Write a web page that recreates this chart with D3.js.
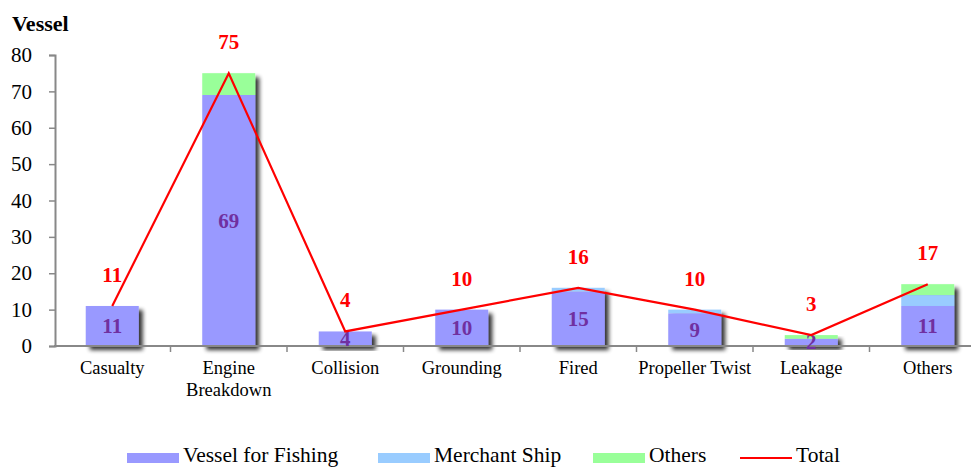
<!DOCTYPE html>
<html>
<head>
<meta charset="utf-8">
<script src="https://cdn.jsdelivr.net/npm/d3@7/dist/d3.min.js"></script>
<style>
  html, body { margin: 0; padding: 0; background: #fff; }
  svg { display: block; }
  text { font-family: "Liberation Serif", "Times New Roman", serif; }
</style>
</head>
<body>
<svg id="chart" width="971" height="468"></svg>
<script>
// Incident counts by cause, split by vessel type
const categories = ["Casualty", "Engine Breakdown", "Collision", "Grounding", "Fired", "Propeller Twist", "Leakage", "Others"];
const fishing  = [11, 69, 4, 10, 15, 9, 2, 11];
const merchant = [0, 0, 0, 0, 1, 1, 0, 3];
const others   = [0, 6, 0, 0, 0, 0, 1, 3];
const totals   = [11, 75, 4, 10, 16, 10, 3, 17];
const yTicks   = [0, 10, 20, 30, 40, 50, 60, 70, 80];

const seriesKeys = ["fishing", "merchant", "others"];
const seriesNames = { fishing: "Vessel for Fishing", merchant: "Merchant Ship", others: "Others" };
const colors = { fishing: "#9999FF", merchant: "#99CCFF", others: "#99FF99" };

const rows = categories.map((c, i) => ({ cat: c, fishing: fishing[i], merchant: merchant[i], others: others[i], total: totals[i] }));

const svg = d3.select("#chart");
const W = 971, H = 468;
const plotLeft = 54, plotRight = 986;   // category range runs slightly past the visible edge
const plotTop = 55, plotBottom = 346;

const x = d3.scaleBand().domain(categories).range([plotLeft, plotRight]).paddingInner(0.545).paddingOuter(0.2725);
const xBand = d3.scaleBand().domain(categories).range([plotLeft, plotRight]);
const y = d3.scaleLinear().domain([0, 80]).range([plotBottom, plotTop]);

// drop shadow for the bars
const defs = svg.append("defs");
const f = defs.append("filter").attr("id", "shadow").attr("x", "-20%").attr("y", "-20%").attr("width", "150%").attr("height", "150%");
f.append("feGaussianBlur").attr("in", "SourceAlpha").attr("stdDeviation", 2).attr("result", "b");
f.append("feOffset").attr("in", "b").attr("dx", 4).attr("dy", 4).attr("result", "o");
f.append("feComponentTransfer").attr("in", "o").attr("result", "s")
  .append("feFuncA").attr("type", "linear").attr("slope", 0.8);
const fm = f.append("feMerge");
fm.append("feMergeNode").attr("in", "s");
fm.append("feMergeNode").attr("in", "SourceGraphic");

const stack = d3.stack().keys(seriesKeys)(rows);

// stacked bars
const barGroups = svg.append("g").selectAll("g.bar").data(rows).join("g")
  .attr("class", "bar").attr("filter", "url(#shadow)");
barGroups.each(function(d, i) {
  const g = d3.select(this);
  stack.forEach(s => {
    const seg = s[i];
    if (seg[1] - seg[0] <= 0) return;
    g.append("rect")
      .attr("x", x(d.cat))
      .attr("width", x.bandwidth())
      .attr("y", y(seg[1]))
      .attr("height", y(seg[0]) - y(seg[1]))
      .attr("fill", colors[s.key]);
  });
});

// axes
const axisColor = "#888";
const yAxis = svg.append("g").attr("transform", `translate(${plotLeft + 1},0)`)
  .call(d3.axisLeft(y).tickValues(yTicks).tickSize(6).tickPadding(17));
yAxis.select(".domain").attr("stroke", axisColor).attr("stroke-width", 2);
yAxis.selectAll(".tick line").attr("stroke", axisColor).attr("stroke-width", 1.5);
yAxis.selectAll(".tick text").attr("font-size", 21).attr("fill", "#000")
  .attr("font-family", "Liberation Serif, Times New Roman, serif");

const xAxisY = y(0);
const xAxis = svg.append("g");
xAxis.append("line").attr("x1", plotLeft).attr("x2", W)
  .attr("y1", xAxisY).attr("y2", xAxisY).attr("stroke", axisColor).attr("stroke-width", 2);
xAxis.selectAll("line.tick").data(categories.slice(1)).join("line")
  .attr("class", "tick")
  .attr("x1", d => xBand(d)).attr("x2", d => xBand(d))
  .attr("y1", xAxisY).attr("y2", xAxisY + 6)
  .attr("stroke", axisColor).attr("stroke-width", 1.5);
xAxis.selectAll("text").data(categories).join("text")
  .attr("x", d => xBand(d) + xBand.bandwidth() / 2)
  .attr("y", xAxisY + 28)
  .attr("text-anchor", "middle")
  .attr("font-size", 18.5)
  .attr("fill", "#000")
  .each(function(d) {
    const words = d === "Engine Breakdown" ? ["Engine", "Breakdown"] : [d];
    const t = d3.select(this);
    words.forEach((w, k) => t.append("tspan").attr("x", xBand(d) + xBand.bandwidth() / 2).attr("dy", k === 0 ? 0 : 22).text(w));
  });

// y axis title
svg.append("text").attr("x", 12).attr("y", 31).attr("font-size", 22).attr("font-weight", "bold").text("Vessel");

// fishing value labels
svg.append("g").selectAll("text").data(rows).join("text")
  .attr("x", d => x(d.cat) + x.bandwidth() / 2)
  .attr("y", d => (y(0) + y(d.fishing)) / 2 + 7)
  .attr("text-anchor", "middle")
  .attr("font-size", 21).attr("font-weight", "bold")
  .attr("fill", "#7030A0")
  .text(d => d.fishing);

// total line
const cx = d => x(d.cat) + x.bandwidth() / 2;
svg.append("path").datum(rows)
  .attr("fill", "none").attr("stroke", "#FF0000").attr("stroke-width", 2.2)
  .attr("d", d3.line().x(cx).y(d => y(d.total)));

// total labels
svg.append("g").selectAll("text").data(rows).join("text")
  .attr("x", cx)
  .attr("y", d => y(d.total) - 24)
  .attr("text-anchor", "middle")
  .attr("font-size", 21).attr("font-weight", "bold")
  .attr("fill", "#FF0000")
  .text(d => d.total);

// legend
const legendY = 458;
const legendItems = [
  { name: seriesNames.fishing, color: colors.fishing, type: "rect", x: 127 },
  { name: seriesNames.merchant, color: colors.merchant, type: "rect", x: 378 },
  { name: seriesNames.others, color: colors.others, type: "rect", x: 593 },
  { name: "Total", color: "#FF0000", type: "line", x: 740 }
];
const lg = svg.append("g").selectAll("g").data(legendItems).join("g")
  .attr("transform", d => `translate(${d.x},${legendY})`);
lg.each(function(d) {
  const g = d3.select(this);
  if (d.type === "rect") {
    g.append("rect").attr("x", 0).attr("y", -5).attr("width", 52).attr("height", 10).attr("fill", d.color);
  } else {
    g.append("line").attr("x1", 0).attr("x2", 52).attr("y1", 0).attr("y2", 0).attr("stroke", d.color).attr("stroke-width", 2.2);
  }
  g.append("text").attr("x", 56).attr("y", 4).attr("font-size", 21.5).attr("fill", "#000").text(d.name);
});
</script>
</body>
</html>
